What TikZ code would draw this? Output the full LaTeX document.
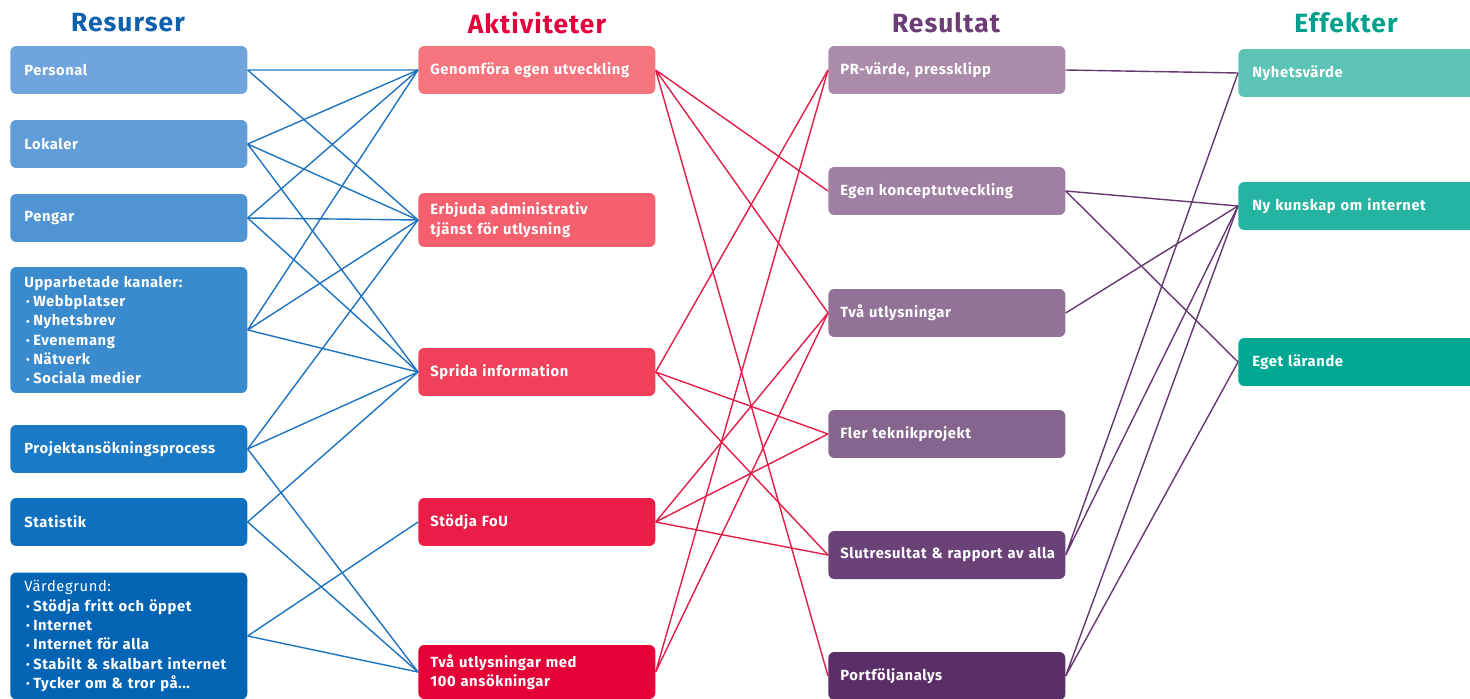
\documentclass[tikz,border=0pt]{standalone}
\usepackage{fontspec}
\setmainfont[LetterSpace=4]{Fira Sans}
\usepackage{xcolor}
\usetikzlibrary{arrows}
\usetikzlibrary{calc}

\definecolor{resA}{RGB}{111,165,220}
\definecolor{resB}{RGB}{96,156,215}
\definecolor{resC}{RGB}{80,148,211}
\definecolor{resD}{RGB}{58,138,206}
\definecolor{resE}{RGB}{26,122,198}
\definecolor{resF}{RGB}{14,112,190}
\definecolor{resG}{RGB}{3,100,180}
\definecolor{aktA}{RGB}{246,116,126}
\definecolor{aktB}{RGB}{245,96,111}
\definecolor{aktC}{RGB}{240,64,90}
\definecolor{aktD}{RGB}{235,28,70}
\definecolor{aktE}{RGB}{230,0,56}
\definecolor{resuA}{RGB}{170,140,170}
\definecolor{resuB}{RGB}{160,128,162}
\definecolor{resuC}{RGB}{146,114,152}
\definecolor{resuD}{RGB}{133,100,142}
\definecolor{resuE}{RGB}{106,66,120}
\definecolor{resuF}{RGB}{92,46,105}
\definecolor{effA}{RGB}{92,196,180}
\definecolor{effB}{RGB}{38,180,162}
\definecolor{effC}{RGB}{0,168,148}
\definecolor{headres}{RGB}{14,96,172}
\definecolor{headakt}{RGB}{228,0,58}
\definecolor{headresu}{RGB}{108,60,119}
\definecolor{headeff}{RGB}{0,160,140}
\definecolor{lineres}{RGB}{30,115,190}
\definecolor{lineakt}{RGB}{226,30,72}
\definecolor{lineresu}{RGB}{102,56,112}

\newcommand{\kbul}{\hspace{1pt}{\fontsize{6pt}{6pt}\selectfont\raisebox{0.3pt}{•}}\hspace{2pt}}

\begin{document}
\begin{tikzpicture}[>=latex', x=0.02cm, y=-0.02cm,
    box/.style={rounded corners=3.4pt, text=white, anchor=west, align=left,
      text width=4.26cm, inner xsep=0.24cm, inner ysep=0pt, minimum height=0.96cm,
      font=\fontsize{8.4pt}{11pt}\selectfont\bfseries},
    resbox/.style={box, text width=4.18cm, inner xsep=0.28cm},
    effbox/.style={box, text width=4.7cm, inner xsep=0.28cm},
    head/.style={font=\fontsize{15pt}{17pt}\selectfont\bfseries},
    resline/.style={draw=lineres, line width=0.8pt},
    aktline/.style={draw=lineakt, line width=0.8pt},
    resuline/.style={draw=lineresu, line width=0.8pt}]
      \useasboundingbox (0,0) rectangle (1470,699);
      \clip (0,0) rectangle (1470,699);

      % headings
      \node [head, text=headres, name=h_res] at (128,23) {Resurser};
      \node [head, text=headakt, name=h_akt] at (537,23) {Aktiviteter};
      \node [head, text=headresu, name=h_resu] at (946,23) {Resultat};
      \node [head, text=headeff, name=h_eff] at (1346,23) {Effekter};

      % resources
      \node [resbox, fill=resA, name=personal] at (10,70) {Personal};
      \node [resbox, fill=resB, name=lokaler] at (10,144) {Lokaler};
      \node [resbox, fill=resC, name=pengar] at (10,218) {Pengar};
      \node [resbox, fill=resD, name=kanaler, minimum height=2.52cm] at (10,330)
      {Upparbetade kanaler:\\ \kbul Webbplatser\\ \kbul Nyhetsbrev\\ \kbul Evenemang\\
        \kbul Nätverk\\ \kbul Sociala medier};
      \node [resbox, fill=resE, name=process] at (10,449) {Projektansökningsprocess};
      \node [resbox, fill=resF, name=statistik] at (10,522) {Statistik};
      \node [resbox, fill=resG, name=grund, minimum height=2.54cm] at (10,636)
      {{\mdseries Värdegrund:}\\ \kbul Stödja fritt och öppet\\ \kbul Internet\\
        \kbul Internet för alla\\ \kbul Stabilt \& skalbart internet\\ \kbul Tycker om \& tror på...};

      % activities
      \node [box, fill=aktA, name=genomfora] at (418,70) {Genomföra egen utveckling};
      \node [box, fill=aktB, name=erbjuda, minimum height=1.08cm] at (418,220)
      {Erbjuda administrativ\\tjänst för utlysning};
      \node [box, fill=aktC, name=sprida] at (418,372) {Sprida information};
      \node [box, fill=aktD, name=stodja] at (418,522) {Stödja FoU};
      \node [box, fill=aktE, name=utlys100, minimum height=1.08cm] at (418,672)
      {Två utlysningar med\\100 ansökningar};

      % results
      \node [box, fill=resuA, name=pr] at (828,70) {PR-värde, pressklipp};
      \node [box, fill=resuB, name=koncept] at (828,191) {Egen konceptutveckling};
      \node [box, fill=resuC, name=utlys] at (828,313) {Två utlysningar};
      \node [box, fill=resuD, name=fler] at (828,434) {Fler teknikprojekt};
      \node [box, fill=resuE, name=slut] at (828,555) {\mbox{Slutresultat \& rapport av alla}};
      \node [box, fill=resuF, name=portfolj] at (828,676) {Portföljanalys};

      % effects
      \node [effbox, fill=effA, name=nyhet] at (1238,73) {Nyhetsvärde};
      \node [effbox, fill=effB, name=kunskap] at (1238,206) {Ny kunskap om internet};
      \node [effbox, fill=effC, name=larande] at (1238,362) {Eget lärande};

      % resources -> activities
      \draw [resline] (personal.east) -- (genomfora.west) (personal.east) -- (erbjuda.west);
      \draw [resline] (lokaler.east) -- (genomfora.west) (lokaler.east) -- (erbjuda.west)
      (lokaler.east) -- (sprida.west);
      \draw [resline] (pengar.east) -- (genomfora.west) (pengar.east) -- (erbjuda.west)
      (pengar.east) -- (sprida.west);
      \draw [resline] (kanaler.east) -- (genomfora.west) (kanaler.east) -- (erbjuda.west)
      (kanaler.east) -- (sprida.west);
      \draw [resline] (process.east) -- (erbjuda.west) (process.east) -- (sprida.west)
      (process.east) -- (utlys100.west);
      \draw [resline] (statistik.east) -- (sprida.west) (statistik.east) -- (utlys100.west);
      \draw [resline] (grund.east) -- (stodja.west) (grund.east) -- (utlys100.west);

      % activities -> results
      \draw [aktline] (genomfora.east) -- (koncept.west) (genomfora.east) -- (utlys.west)
      (genomfora.east) -- (portfolj.west);
      \draw [aktline] (sprida.east) -- (pr.west) (sprida.east) -- (fler.west)
      (sprida.east) -- (slut.west);
      \draw [aktline] (stodja.east) -- (utlys.west) (stodja.east) -- (fler.west)
      (stodja.east) -- (slut.west);
      \draw [aktline] (utlys100.east) -- (pr.west) (utlys100.east) -- (utlys.west);

      % results -> effects
      \draw [resuline] (pr.east) -- (nyhet.west);
      \draw [resuline] (koncept.east) -- (kunskap.west) (koncept.east) -- (larande.west);
      \draw [resuline] (utlys.east) -- (kunskap.west);
      \draw [resuline] (slut.east) -- (nyhet.west) (slut.east) -- (kunskap.west);
      \draw [resuline] (portfolj.east) -- (kunskap.west) (portfolj.east) -- (larande.west);
\end{tikzpicture}
\end{document}
